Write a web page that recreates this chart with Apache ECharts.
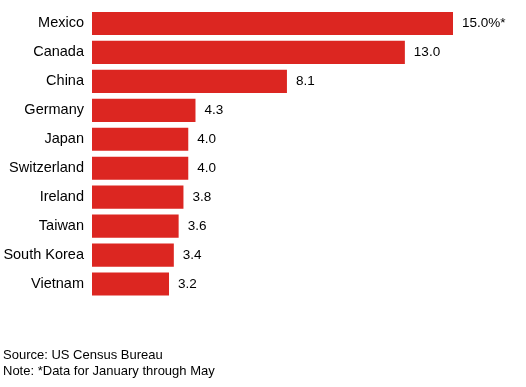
<!DOCTYPE html>
<html>
<head>
<meta charset="utf-8">
<script src="https://cdn.jsdelivr.net/npm/echarts@6/dist/echarts.min.js"></script>
<style>
html,body{margin:0;padding:0;background:#fff;}
#c{width:526px;height:387px;}
</style>
</head>
<body>
<div id="c"></div>
<script>
const categories = ["Mexico","Canada","China","Germany","Japan","Switzerland","Ireland","Taiwan","South Korea","Vietnam"];
const values = [15.0, 13.0, 8.1, 4.3, 4.0, 4.0, 3.8, 3.6, 3.4, 3.2];
const labelSuffix = ["%*", "", "", "", "", "", "", "", "", ""];
const footerLines = ["Source: US Census Bureau", "Note: *Data for January through May"];

const chart = echarts.init(document.getElementById('c'), null, {renderer:'canvas'});
const font = '"Liberation Sans", Arial, Helvetica, sans-serif';
chart.setOption({
  animation:false,
  backgroundColor:'#fff',
  grid:{left:92, right:73, top:9, height:289.5, containLabel:false},
  xAxis:{type:'value', min:0, max:15, show:false},
  yAxis:{type:'category', data:categories, inverse:true,
    axisLine:{show:false}, axisTick:{show:false}, splitLine:{show:false},
    axisLabel:{color:'#000', fontSize:14.5, fontFamily:font, margin:8}},
  series:[{type:'bar', data:values, barCategoryGap:'20%',
    itemStyle:{color:'#dc2621'},
    label:{show:true, position:'right', distance:9, color:'#000', fontSize:13.5, fontFamily:font,
      formatter:p=>p.value.toFixed(1)+labelSuffix[p.dataIndex]}}],
  graphic:[{type:'text', left:3, top:347, style:{text:footerLines.join('\n'), fill:'#000', font:'13px '+font, lineHeight:16}}]
});
</script>
</body>
</html>
